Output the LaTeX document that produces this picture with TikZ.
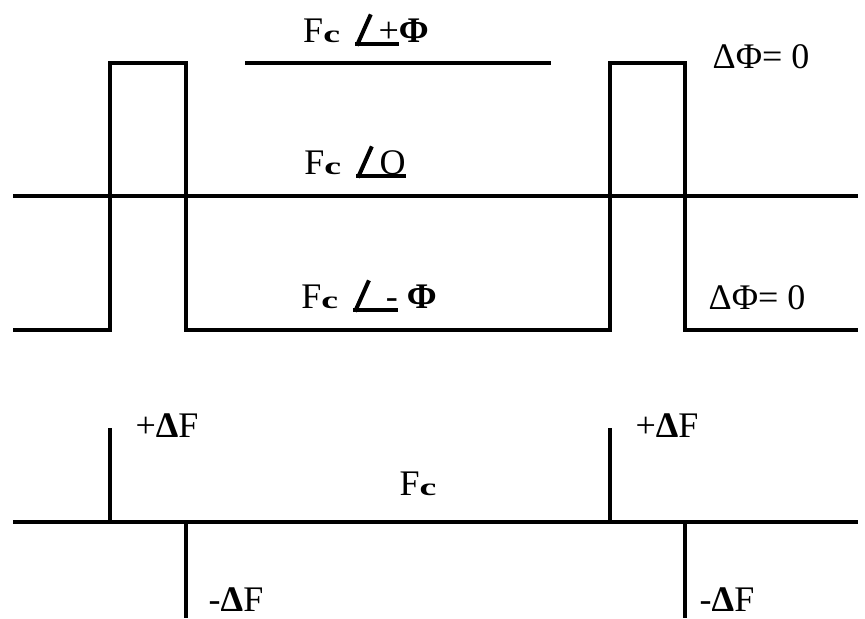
\documentclass[tikz,border=0pt]{standalone}
\usepackage{fontspec}
\setmainfont{Liberation Serif}
\newlength{\phlen}
% carrier symbol with its low, wide c
\newcommand{\Fc}{F\scalebox{1.05}[0.68]{\textbf{c}}}
% underlined angle sign in front of a phase value
\newcommand{\phslash}{\raisebox{-0.12em}{\rotatebox[origin=bl]{66}{\rule{0.95em}{2pt}}}}
\newcommand{\phang}[1]{\settowidth{\phlen}{\phslash\,#1}%
  \rlap{\rule[-0.12em]{\phlen}{2pt}}\phslash\,#1}
\begin{document}
\begin{tikzpicture}[x=0.5pt, y=-0.5pt,
  wave/.style={line width=2pt, line join=miter},
  lbl/.style={font=\fontsize{18}{21}\selectfont, inner sep=0pt},
]
\useasboundingbox (0,0) rectangle (865,618);

% Phase waveform (upper diagram)
\draw[wave] (13,330) -- (110,330) -- (110,63) -- (186,63) -- (186,330)
  -- (610,330) -- (610,63) -- (685,63) -- (685,330) -- (858,330);
\draw[wave] (13,196) -- (858,196);
\draw[wave] (245,63) -- (551,63);

% Phase labels
\node[lbl] (fcplus)  at (366,30)  {\Fc\ \,\phang{+}\textbf{Φ}};
\node[lbl] (fczero)  at (355,162) {\Fc\ \,\phang{O}};
\node[lbl] (fcminus) at (369,296) {\Fc\ \,\phang{\ -}\ \textbf{Φ}};
\node[lbl] (dphitop) at (761,57)  {ΔΦ= 0};
\node[lbl] (dphibot) at (757,298) {ΔΦ= 0};

% Frequency deviation (lower diagram)
\draw[wave] (13,522) -- (858,522);
\draw[wave] (110,428) -- (110,522);
\draw[wave] (186,522) -- (186,618);
\draw[wave] (610,428) -- (610,522);
\draw[wave] (685,522) -- (685,618);

% Frequency labels
\node[lbl] (dfplusl)  at (167,426) {+\textbf{Δ}F};
\node[lbl] (dfplusr)  at (667,426) {+\textbf{Δ}F};
\node[lbl] (fcbase)   at (418,484) {\Fc};
\node[lbl] (dfminusl) at (236,600) {-\textbf{Δ}F};
\node[lbl] (dfminusr) at (727,600) {-\textbf{Δ}F};

\end{tikzpicture}
\end{document}
